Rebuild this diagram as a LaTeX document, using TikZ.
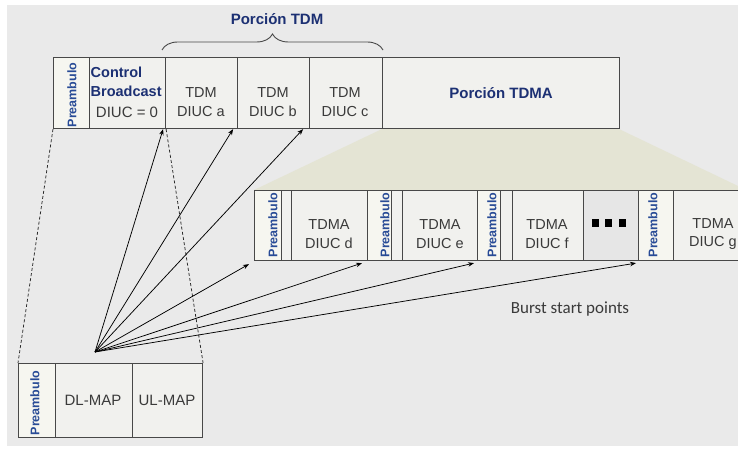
\documentclass[tikz,border=0pt]{standalone}
\usepackage{fontspec}
\setmainfont{Liberation Sans}
\newfontfamily\burstfont{Carlito}
\usetikzlibrary{decorations.pathreplacing,arrows.meta}
\definecolor{bgc}{RGB}{234,234,234}
\definecolor{cellc}{RGB}{241,241,238}
\definecolor{prec}{RGB}{246,246,240}
\definecolor{dotcell}{RGB}{230,230,230}
\definecolor{linec}{RGB}{72,72,72}
\definecolor{trapc}{RGB}{228,228,212}
\definecolor{txtc}{RGB}{58,58,58}
\definecolor{bluec}{RGB}{28,48,115}
\definecolor{prebl}{RGB}{40,75,150}
\tikzset{
  cell/.style={draw=linec, fill=cellc, line width=1.1pt, inner sep=0pt, anchor=north west},
  topcell/.style={cell, minimum height=71pt},
  lowcell/.style={cell, minimum height=70pt},
  precell/.style={fill=prec},
  pretxt/.style={rotate=90, font=\bfseries\fontsize{12.5}{13}\selectfont, text=prebl, inner sep=0pt},
  celltxt/.style={align=center, font=\fontsize{14.5}{18.5}\selectfont, text=txtc, inner sep=0pt},
  headtxt/.style={font=\bfseries\fontsize{15}{17}\selectfont, text=bluec, inner sep=0pt},
  arr/.style={draw=black, line width=0.75pt, -{Stealth[length=6pt,width=4.5pt]}},
  dashline/.style={draw=black!85, line width=0.75pt, dash pattern=on 3pt off 2.2pt}
}
\begin{document}
\begin{tikzpicture}[x=1pt,y=-1pt]
\useasboundingbox (0,0) rectangle (738,449);
\fill[white] (0,0) rectangle (738,449);
\fill[bgc] (7,5) rectangle (738,446);
% expansion trapezoid
\fill[trapc] (382,129) -- (619,129) -- (738,186) -- (738,190) -- (254,190) -- cycle;
% brace and heading
\draw[linec, line width=0.9pt, decorate, decoration={brace, amplitude=16pt, aspect=0.5}] (162,50) -- (383,50);
\node[headtxt] (hdm) at (277,19) {Porción TDM};
% top row
\node[topcell, precell, minimum width=36pt] (p0) at (53,57) {};
\node[topcell, minimum width=76pt] (cb) at (89,57) {};
\node[topcell, minimum width=72pt] (ta) at (165,57) {};
\node[topcell, minimum width=72pt] (tb) at (237,57) {};
\node[topcell, minimum width=73pt] (tc) at (309,57) {};
\node[topcell, minimum width=237pt] (tt) at (382,57) {};
\node[pretxt] (p0t) at (72,95) {Preambulo};
\node[headtxt, anchor=west, font=\bfseries\fontsize{14.5}{16}\selectfont] (cbt1) at (90.5,72) {Control};
\node[headtxt, anchor=west, font=\bfseries\fontsize{14.5}{16}\selectfont] (cbt2) at (90.5,91) {Broadcast};
\node[celltxt, font=\fontsize{15}{18}\selectfont] (cbt3) at (127,112) {DIUC = 0};
\node[celltxt] (tat) at (201,102) {TDM\\DIUC a};
\node[celltxt] (tbt) at (273,102) {TDM\\DIUC b};
\node[celltxt] (tct) at (345,102) {TDM\\DIUC c};
\node[headtxt] (ttt) at (501,93) {Porción TDMA};
% lower row
\begin{scope}
\clip (0,0) rectangle (738,449);
\node[lowcell, precell, minimum width=27pt] (p1) at (254,190) {};
\node[lowcell, minimum width=10pt] (g1) at (281,190) {};
\node[lowcell, minimum width=76pt] (dd) at (291,190) {};
\node[lowcell, precell, minimum width=24pt] (p2) at (367,190) {};
\node[lowcell, minimum width=11pt] (g2) at (391,190) {};
\node[lowcell, minimum width=75pt] (de) at (402,190) {};
\node[lowcell, precell, minimum width=23pt] (p3) at (477,190) {};
\node[lowcell, minimum width=12pt] (g3) at (500,190) {};
\node[lowcell, minimum width=71pt] (df) at (512,190) {};
\node[lowcell, fill=dotcell, minimum width=55pt] (dots) at (583,190) {};
\node[lowcell, precell, minimum width=35pt] (p4) at (638,190) {};
\node[lowcell, minimum width=90pt] (dg) at (673,190) {};
\end{scope}
\node[pretxt] (p1t) at (273,225) {Preambulo};
\node[pretxt] (p2t) at (385,225) {Preambulo};
\node[pretxt] (p3t) at (492,225) {Preambulo};
\node[pretxt] (p4t) at (653,225) {Preambulo};
\node[celltxt] (ddt) at (329,234) {TDMA\\DIUC d};
\node[celltxt] (det) at (440,234) {TDMA\\DIUC e};
\node[celltxt] (dft) at (547,234) {TDMA\\DIUC f};
\node[celltxt] (dgt) at (713,234) {TDMA\\DIUC g};
\fill[black] (592,219) rectangle (599,227);
\fill[black] (605,219) rectangle (612,227);
\fill[black] (619,219) rectangle (626,227);
% DL/UL map box
\node[cell, precell, minimum width=37pt, minimum height=74pt] (dp) at (18,363) {};
\node[cell, minimum width=77pt, minimum height=74pt] (dl) at (55,363) {};
\node[cell, minimum width=70pt, minimum height=74pt] (ul) at (132,363) {};
\node[pretxt] (dpt) at (35,403) {Preambulo};
\node[celltxt, font=\fontsize{15}{18}\selectfont] (dlt) at (93,400) {DL-MAP};
\node[celltxt, font=\fontsize{15}{18}\selectfont] (ult) at (167,400) {UL-MAP};
% dashed expansion lines
\draw[dashline] (p0.south west) -- (dp.north west);
\draw[dashline] (cb.south east) -- (ul.north east);
% arrows
\coordinate (fan) at (95,352);
\draw[arr] (fan) -- ([xshift=-3pt]cb.south east);
\draw[arr] (fan) -- ([xshift=-5pt]ta.south east);
\draw[arr] (fan) -- ([xshift=-7pt]tb.south east);
\draw[arr] (fan) -- ([xshift=-5pt,yshift=-3pt]p1.south west);
\draw[arr] (fan) -- ([xshift=-5pt,yshift=-2pt]p2.south west);
\draw[arr] (fan) -- ([xshift=-3pt,yshift=-2pt]p3.south west);
\draw[arr] (fan) -- ([xshift=-2pt,yshift=-2pt]p4.south west);
\node[font=\burstfont\fontsize{17}{19}\selectfont, text=txtc, inner sep=0pt] (burst) at (570,309) {Burst start points};
\end{tikzpicture}
\end{document}
